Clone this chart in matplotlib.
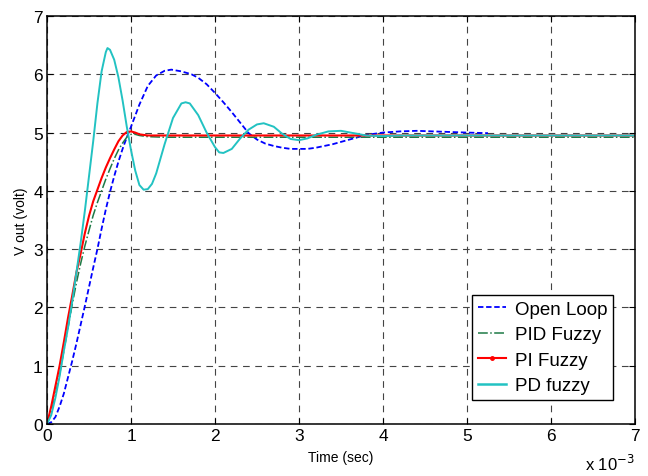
import matplotlib
matplotlib.use('Agg')
import matplotlib.pyplot as plt
from matplotlib.lines import Line2D
import numpy as np

plt.rcParams['font.family'] = ['Liberation Sans', 'DejaVu Sans']

# time in ms (plotted in seconds), values in volts
t_open = [0, 0.05, 0.1, 0.15, 0.2, 0.25, 0.3, 0.35, 0.4, 0.45, 0.5, 0.55, 0.6, 0.65, 0.7,
          0.75, 0.8, 0.85, 0.9, 0.95, 1.0, 1.1, 1.2, 1.3, 1.4, 1.48, 1.6, 1.72, 1.8, 1.9,
          2.0, 2.1, 2.2, 2.3, 2.4, 2.5, 2.6, 2.7, 2.8, 2.9, 3.0, 3.1, 3.2, 3.4, 3.6, 3.8,
          4.0, 4.2, 4.4, 4.6, 4.8, 5.0, 5.25]
v_open = [0, 0.03, 0.12, 0.3, 0.52, 0.8, 1.08, 1.38, 1.7, 2.02, 2.35, 2.68, 3.0, 3.35, 3.68,
          3.98, 4.25, 4.5, 4.72, 4.92, 5.1, 5.48, 5.8, 5.98, 6.06, 6.08, 6.05, 6.0, 5.94, 5.83,
          5.68, 5.52, 5.35, 5.17, 4.99, 4.88, 4.81, 4.77, 4.74, 4.72, 4.72, 4.72, 4.74, 4.8, 4.88, 4.96,
          5.0, 5.02, 5.03, 5.02, 5.01, 5.0, 4.99]

t_pid = [0, 0.05, 0.1, 0.15, 0.2, 0.25, 0.3, 0.35, 0.4, 0.45, 0.5, 0.55, 0.6, 0.65, 0.7,
         0.75, 0.8, 0.85, 0.9, 0.95, 1.0, 1.05, 1.1, 1.2, 1.4, 2.0, 7.0]
v_pid = [0, 0.2, 0.5, 0.85, 1.25, 1.65, 2.05, 2.42, 2.75, 3.05, 3.32, 3.58, 3.8, 4.0, 4.2,
         4.38, 4.55, 4.7, 4.82, 4.92, 4.97, 4.97, 4.95, 4.93, 4.92, 4.92, 4.92]

t_pi = [0, 0.05, 0.1, 0.15, 0.2, 0.25, 0.3, 0.35, 0.4, 0.45, 0.5, 0.55, 0.6, 0.65, 0.7,
        0.75, 0.8, 0.85, 0.9, 0.95, 1.0, 1.05, 1.1, 1.2, 1.3, 2.0, 7.0]
v_pi = [0, 0.3, 0.65, 1.0, 1.4, 1.82, 2.2, 2.6, 2.92, 3.27, 3.57, 3.82, 4.02, 4.22, 4.4,
        4.56, 4.71, 4.85, 4.95, 5.01, 5.02, 5.0, 4.97, 4.95, 4.95, 4.95, 4.95]

t_pd = [0, 0.05, 0.1, 0.15, 0.2, 0.25, 0.3, 0.35, 0.4, 0.45, 0.5, 0.55, 0.6, 0.65, 0.7,
        0.72, 0.75, 0.8, 0.85, 0.9, 0.95, 1.0, 1.05, 1.1, 1.15, 1.2, 1.25, 1.3, 1.4, 1.5,
        1.6, 1.65, 1.7, 1.8, 1.9, 2.0, 2.05, 2.1, 2.2, 2.3, 2.4, 2.5, 2.58, 2.7, 2.8, 2.9,
        3.0, 3.1, 3.2, 3.35, 3.5, 3.65, 3.8, 4.0, 4.2, 4.5, 7.0]
v_pd = [0, 0.15, 0.45, 0.82, 1.25, 1.65, 2.1, 2.6, 3.1, 3.65, 4.25, 4.85, 5.5, 6.05, 6.38,
        6.45, 6.42, 6.25, 5.95, 5.55, 5.1, 4.7, 4.35, 4.1, 4.02, 4.03, 4.12, 4.3, 4.8, 5.25,
        5.5, 5.52, 5.5, 5.3, 5.0, 4.75, 4.66, 4.65, 4.72, 4.9, 5.05, 5.14, 5.16, 5.1, 4.98, 4.89,
        4.87, 4.9, 4.96, 5.02, 5.03, 4.99, 4.95, 4.94, 4.95, 4.95, 4.95]

labels = ['Open Loop', 'PID Fuzzy', 'PI Fuzzy', 'PD fuzzy']

fig = plt.figure(figsize=(6.48, 4.77), dpi=100)
ax = fig.add_axes([47/648, 52/477, 588/648, 408/477])

ms = 1e-3
ax.plot(np.array(t_open)*ms, v_open, '--', color='#0000ff', lw=1.3, dashes=(3, 1.5))
ax.plot(np.array(t_pid)*ms, v_pid, '-.', color='#1e7a46', lw=1.1)
ax.plot(np.array(t_pi)*ms, v_pi, '-', color='#ff0000', lw=1.5)
ax.plot(np.array(t_pd)*ms, v_pd, '-', color='#22c2c2', lw=1.4)

ax.set_xlim(0, 7*ms)
ax.set_ylim(0, 7)
ax.set_xticks(np.arange(0, 8)*ms)
ax.set_xticklabels([str(i) for i in range(8)])
ax.set_yticks(range(8))
ax.tick_params(direction='in', length=4, labelsize=12.5, pad=3, width=0.8,
               top=True, right=True)
ax.grid(True, color='#444444', ls=(0, (6, 5)), lw=0.8)
for s in ax.spines.values():
    s.set_linewidth(1.1)

ax.set_xlabel('Time (sec)', fontsize=10, labelpad=5)
ax.set_ylabel('V out (volt)', fontsize=10, labelpad=4)
ax.text(1.0, -0.07, r'x 10$^{-3}$', transform=ax.transAxes, ha='right', va='top', fontsize=12)

handles = [
    Line2D([], [], ls='--', color='#0000ff', lw=1.3, dashes=(3, 1.5)),
    Line2D([], [], ls='-.', color='#1e7a46', lw=1.1),
    Line2D([], [], ls='-', color='#ff0000', lw=1.5, marker='.', markersize=5),
    Line2D([], [], ls='-', color='#22c2c2', lw=1.8),
]
leg = ax.legend(handles, labels, loc='lower right', bbox_to_anchor=(0.963, 0.059),
                borderaxespad=0, fontsize=13.5, fancybox=False, framealpha=1,
                edgecolor='black', handlelength=1.5, handletextpad=0.5,
                labelspacing=0.45, borderpad=0.3)
leg.get_frame().set_linewidth(1.0)

fig.savefig('out.png', dpi=100)
